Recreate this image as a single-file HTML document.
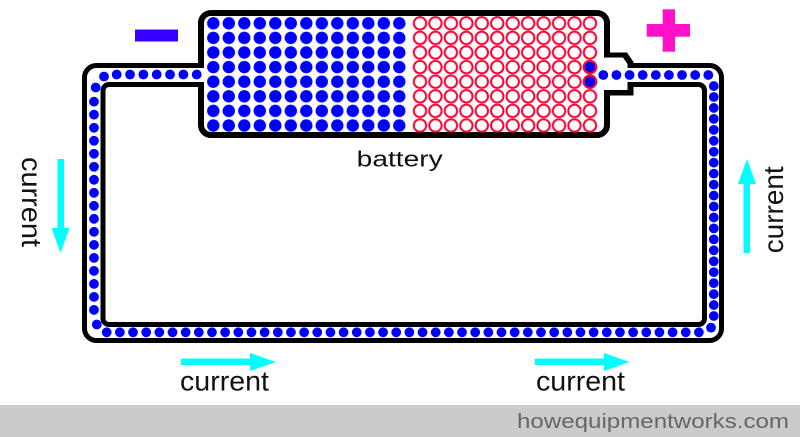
<!DOCTYPE html>
<html>
<head>
<meta charset="utf-8">
<style>
  html, body { margin: 0; padding: 0; background: #fff; }
  svg { display: block; }
  text { font-family: "Liberation Sans", "DejaVu Sans", sans-serif; }
</style>
</head>
<body>
<svg width="800" height="437" viewBox="0 0 800 437" xmlns="http://www.w3.org/2000/svg">
  <defs>
    <pattern id="pb" patternUnits="userSpaceOnUse" x="205.55" y="16" width="15.5" height="14.6">
      <circle cx="7.75" cy="7.3" r="6.2" fill="#0000ff"/>
    </pattern>
    <pattern id="pr" patternUnits="userSpaceOnUse" x="412.275" y="16" width="15.45" height="14.6">
      <circle cx="7.725" cy="7.3" r="6.2" fill="none" stroke="#ff0033" stroke-width="2"/>
    </pattern>
  </defs>

  <rect x="0" y="0" width="800" height="437" fill="#ffffff"/>

  <!-- wire tube -->
  <rect x="84.5" y="65.5" width="637" height="275" rx="12" ry="12" fill="none" stroke="#000" stroke-width="5"/>
  <rect x="103" y="84.5" width="601.5" height="240" rx="6" ry="6" fill="none" stroke="#000" stroke-width="5"/>

  <!-- battery body -->
  <rect x="201" y="13" width="406" height="122" rx="10" ry="10" fill="#fff" stroke="#000" stroke-width="6"/>

  <!-- battery nub (positive terminal) -->
  <polygon points="604,52.5 627,52.5 633.5,62 633.5,95.5 604,95.5" fill="#000"/>
  <polygon points="600,57.5 623,57.5 627.5,64 627.5,68 636,68 636,82 627.5,82 627.5,90 600,90" fill="#fff"/>

  <!-- left opening -->
  <rect x="196" y="68" width="12" height="14" fill="#fff"/>

  <!-- battery charges -->
  <rect x="205.55" y="16" width="201.5" height="116.8" fill="url(#pb)"/>
  <rect x="412.275" y="16" width="185.4" height="116.8" fill="url(#pr)"/>
  <circle cx="590" cy="67.1" r="6.2" fill="#0000ff" stroke="#ff0033" stroke-width="2"/>
  <circle cx="590" cy="81.7" r="6.2" fill="#0000ff" stroke="#ff0033" stroke-width="2"/>

  <!-- wire electrons -->
  <g fill="none" stroke="#0000ff" stroke-width="9.8" stroke-linecap="round">
    <path d="M116.7 74.5 H196.8" stroke-dasharray="0 13.333"/>
    <path d="M94 101.7 V310.2" stroke-dasharray="0 13.0125"/>
    <path d="M106.7 332.3 H699" stroke-dasharray="0 13.16"/>
    <path d="M713.8 316 V85.8" stroke-dasharray="0 10.95"/>
    <path d="M603.3 75 H708.4" stroke-dasharray="0 13.125"/>
  </g>
  <g fill="#0000ff">
    <circle cx="104" cy="76.5" r="4.9"/>
    <circle cx="95.7" cy="87.5" r="4.9"/>
    <circle cx="96.8" cy="324.5" r="4.9"/>
    <circle cx="711" cy="327.7" r="4.9"/>
  </g>

  <!-- minus and plus -->
  <rect x="135" y="29.5" width="43" height="12" fill="#3a00ff"/>
  <rect x="646.7" y="24" width="43.3" height="12.7" fill="#ff11cc"/>
  <rect x="662.7" y="9.3" width="12.3" height="42.4" fill="#ff11cc"/>

  <!-- arrows -->
  <g fill="#00ffff">
    <rect x="57.5" y="159" width="6.5" height="70"/>
    <polygon points="51.5,228 69.5,228 60.5,253"/>
    <rect x="743.5" y="183" width="6.5" height="70"/>
    <polygon points="738,184 756,184 747,159"/>
    <rect x="181" y="358.5" width="70" height="6.5"/>
    <polygon points="250,353 250,371 276,362"/>
    <rect x="535" y="358.5" width="70" height="6.5"/>
    <polygon points="604,353 604,371 629.5,362"/>
  </g>

  <!-- labels -->
  <text x="356.7" y="166.7" font-size="22" fill="#111" textLength="86" lengthAdjust="spacingAndGlyphs">battery</text>
  <text x="180" y="390.7" font-size="28" fill="#111" textLength="89" lengthAdjust="spacingAndGlyphs">current</text>
  <text x="536" y="390.7" font-size="28" fill="#111" textLength="89" lengthAdjust="spacingAndGlyphs">current</text>
  <text transform="translate(22,157) rotate(90)" x="0" y="0" font-size="28" fill="#111" textLength="90" lengthAdjust="spacingAndGlyphs">current</text>
  <text transform="translate(783,253.3) rotate(-90)" x="0" y="0" font-size="28" fill="#111" textLength="87" lengthAdjust="spacingAndGlyphs">current</text>

  <!-- footer -->
  <rect x="0" y="405" width="800" height="32" fill="#cbcbcb"/>
  <text x="517" y="428" font-size="20.5" fill="#666" textLength="272" lengthAdjust="spacingAndGlyphs">howequipmentworks.com</text>
</svg>
</body>
</html>
